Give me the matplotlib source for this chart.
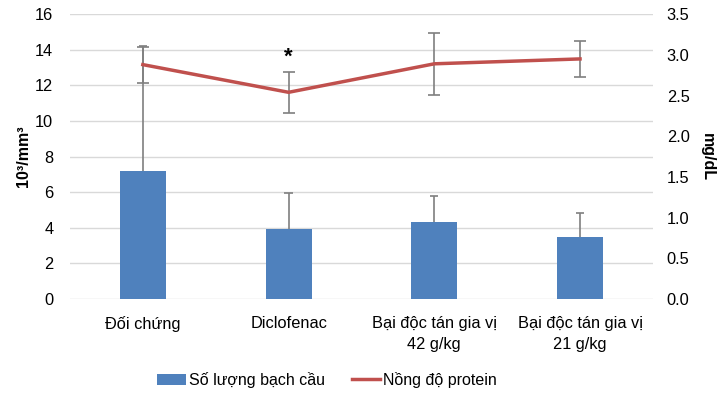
import matplotlib.pyplot as plt
import numpy as np

plt.rcParams['font.family'] = ['Liberation Sans', 'DejaVu Sans']

# data
groups = ['Đối chứng', 'Diclofenac', 'Bại độc tán gia vị\n42 g/kg', 'Bại độc tán gia vị\n21 g/kg']
wbc = [7.2, 3.95, 4.3, 3.5]          # 10^3/mm^3
wbc_sd = [7.0, 2.0, 1.5, 1.35]
protein = [2.88, 2.54, 2.89, 2.95]   # mg/dL
protein_sd = [0.22, 0.25, 0.38, 0.225]

BAR_COLOR = '#4f81bd'
LINE_COLOR = '#c0504d'
ERR_COLOR = '#7f7f7f'

fig = plt.figure(figsize=(7.17, 3.93), dpi=100)
ax1 = fig.add_axes([0.0976, 0.239, 0.813, 0.725])
ax2 = ax1.twinx()

x = np.arange(len(groups))
wbc_top = np.array(wbc) + np.array(wbc_sd)

# only the upper half of the bar error is shown
cap = 0.028
ax1.vlines(x, wbc, wbc_top, color=ERR_COLOR, linewidth=1.2, zorder=2)
ax1.hlines(wbc_top, x - cap, x + cap, color=ERR_COLOR, linewidth=1.2, zorder=2)
ax1.bar(x, wbc, width=0.315, color=BAR_COLOR, zorder=3, label='Số lượng bạch cầu')

ax2.plot(x, protein, color=LINE_COLOR, linewidth=2.5, zorder=4, label='Nồng độ protein')
ax2.errorbar(x, protein, yerr=protein_sd, fmt='none',
             ecolor=ERR_COLOR, elinewidth=1.2, capsize=4, capthick=1.2, zorder=3)
ax2.text(x[1], protein[1] + protein_sd[1] + 0.05, '*', ha='center', va='bottom',
         fontsize=16, fontweight='bold')

ax1.set_xlim(-0.5, 3.5)
ax1.set_ylim(0, 16)
ax1.set_yticks(np.arange(0, 17, 2))
ax2.set_ylim(0, 3.5)
ax2.set_yticks(np.arange(0, 3.51, 0.5))
ax2.set_yticklabels(['%.1f' % v for v in np.arange(0, 3.51, 0.5)])

ax1.set_xticks(x)
ax1.set_xticklabels(groups, fontsize=11.5, linespacing=1.5)
ax1.yaxis.grid(True, color='#d9d9d9', linewidth=1)
ax1.set_axisbelow(True)

for ax in (ax1, ax2):
    for s in ax.spines.values():
        s.set_visible(False)
    ax.tick_params(length=0, labelsize=11.8, colors='black')
ax1.tick_params(axis='y', pad=12)
ax1.tick_params(axis='x', pad=12)
ax2.tick_params(axis='y', pad=10)

ax1.set_ylabel('10³/mm³', fontsize=11.5, fontweight='bold', labelpad=3)
ax2.set_ylabel('mg/dL', fontsize=11.5, fontweight='bold', rotation=270, labelpad=18)

h1, l1 = ax1.get_legend_handles_labels()
h2, l2 = ax2.get_legend_handles_labels()
fig.legend(h1 + h2, l1 + l2, loc='center', bbox_to_anchor=(0.456, 0.033), ncol=2,
           frameon=False, fontsize=11.5, handlelength=1.8, handletextpad=0.15, columnspacing=1.7)

fig.savefig('out.png', dpi=100)
